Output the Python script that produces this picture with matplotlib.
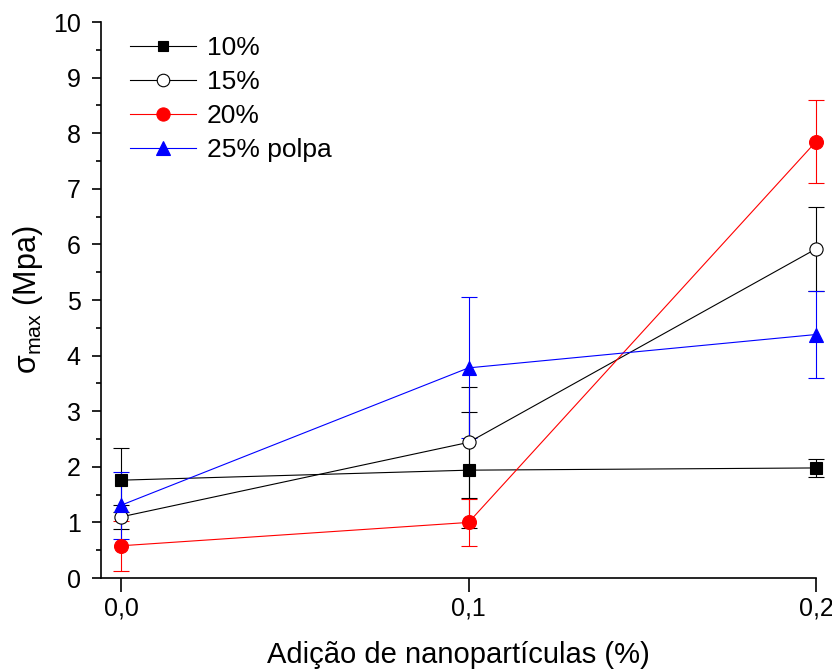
import numpy as np
import matplotlib
matplotlib.use('Agg')
import matplotlib.pyplot as plt
from matplotlib.lines import Line2D
from matplotlib.ticker import MultipleLocator, FuncFormatter

plt.rcParams['font.family'] = ['Liberation Sans', 'DejaVu Sans']
plt.rcParams['mathtext.fontset'] = 'custom'
plt.rcParams['mathtext.rm'] = 'Liberation Sans'
plt.rcParams['mathtext.it'] = 'Liberation Sans:italic'

# nanoparticle addition (%)
x = [0.0, 0.1, 0.2]

labels = ['10%', '15%', '20%', '25% polpa']
y_10 = [1.76, 1.94, 1.98]
e_10 = [0.57, 1.04, 0.16]
y_15 = [1.10, 2.44, 5.92]
e_15 = [0.22, 1.00, 0.76]
y_20 = [0.58, 1.00, 7.85]
e_20 = [0.45, 0.42, 0.74]
y_25 = [1.31, 3.78, 4.38]
e_25 = [0.60, 1.27, 0.78]

fig = plt.figure(figsize=(8.32, 6.69), dpi=100)
ax = fig.add_axes([0.1214, 0.136, 0.8594, 0.831])

series = [
    (y_10, e_10, 'k', 's', 'k', 8),
    (y_15, e_15, 'k', 'o', 'white', 9.5),
    (y_20, e_20, '#ff0000', 'o', '#ff0000', 10),
    (y_25, e_25, '#0000ff', '^', '#0000ff', 10.5),
]
handles = []
for (yv, ev, c, m, fc, ms), lab in zip(series, labels):
    ax.errorbar(x, yv, yerr=ev, color=c, lw=0.8, elinewidth=0.8, capsize=6,
                capthick=0.8, marker=m, ms=ms, mfc=fc, mec=c, mew=0.8,
                clip_on=False, zorder=3)
    handles.append(Line2D([], [], color=c, lw=0.8, marker=m, ms=ms * 0.95,
                          mfc=fc, mec=c, mew=0.8, label=lab))

ax.set_xlim(-0.0058, 0.2)
ax.set_ylim(0, 10)
ax.xaxis.set_major_locator(MultipleLocator(0.1))
ax.yaxis.set_major_locator(MultipleLocator(1))
ax.yaxis.set_minor_locator(MultipleLocator(0.5))
ax.xaxis.set_major_formatter(FuncFormatter(lambda v, p: ('%.1f' % v).replace('.', ',')))

for s in ['top', 'right']:
    ax.spines[s].set_visible(False)
ax.spines['left'].set_linewidth(1.2)
ax.spines['bottom'].set_linewidth(1.2)
ax.tick_params(axis='y', which='major', direction='out', length=6.5, width=1.2,
               labelsize=18, pad=8)
ax.tick_params(axis='y', which='minor', direction='out', length=3.5, width=1.2)
ax.tick_params(axis='x', which='major', direction='out', length=10, width=1.2,
               labelsize=18, pad=3)

ax.set_xlabel('Adição de nanopartículas (%)', fontsize=21, labelpad=15)
ax.set_ylabel(r'$\mathrm{\sigma_{max}}$ (Mpa)', fontsize=22, labelpad=6)

ax.legend(handles=handles, loc='upper left', frameon=False, fontsize=19,
          handlelength=2.5, handletextpad=0.4, labelspacing=0.38,
          borderaxespad=0.2, bbox_to_anchor=(0.019, 1.003))

fig.savefig('out.png', dpi=100)
